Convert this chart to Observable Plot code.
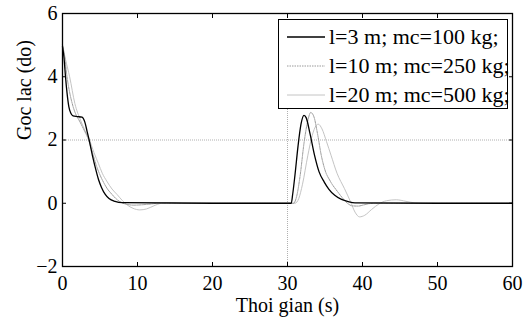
<!DOCTYPE html>
<html>
<head>
<meta charset="utf-8">
<script src="https://cdn.jsdelivr.net/npm/d3@7"></script>
<script src="https://cdn.jsdelivr.net/npm/@observablehq/plot@0.6"></script>
<style>
  html, body { margin: 0; padding: 0; background: #fff; }
  #wrap { position: relative; width: 526px; height: 322px; }
  #legend { position: absolute; left: 278px; top: 19px; width: 230px; height: 90px; border: 1.5px solid #000; background: #fff; box-sizing: border-box; }
  .row { position: absolute; left: 0; height: 28px; display: flex; align-items: center; color: #000; white-space: nowrap; }
  .row svg { margin-left: 8px; margin-right: 4px; }
</style>
</head>
<body>
<div id="wrap"><div id="legend"></div></div>
<script>
// Series labels
const seriesNames = ["l=3 m; mc=100 kg;", "l=10 m; mc=250 kg;", "l=20 m; mc=500 kg;"];

// Series 1: l=3 m
const time1 = [0,0.2,0.4,0.6,0.85,1.1,1.4,2.0,2.6,3.0,3.3,3.6,4.0,4.4,4.8,5.2,5.7,6.2,7.0,8.0,
               20,30.5,30.7,31.0,31.4,31.8,32.2,32.5,33.0,33.6,34.2,34.9,35.5,36.3,37.2,38.1,39,50,60];
const ang1  = [4.95,4.6,4.0,3.5,3.05,2.85,2.76,2.74,2.72,2.55,2.25,1.95,1.5,1.1,0.75,0.5,0.28,0.15,0.06,0.02,
               0,0,0.3,0.9,1.8,2.5,2.78,2.7,2.2,1.52,1.0,0.67,0.45,0.25,0.12,0.05,0.01,0,0];

// Series 2: l=10 m
const time2 = [0,0.3,0.6,1.0,1.3,1.8,2.2,2.8,3.4,4.0,4.5,4.9,5.5,6.0,6.6,7.2,7.8,8.5,9.5,10.5,11.5,13,
               20,30.8,31.2,31.7,32.2,32.7,33.1,33.5,34.0,34.5,35.0,35.7,36.7,37.5,38.0,38.6,39.4,40.2,41,42,50,60];
const ang2  = [5.0,4.6,4.0,3.45,3.15,2.8,2.63,2.35,2.05,1.6,1.2,0.95,0.65,0.45,0.28,0.13,0.03,-0.03,-0.06,-0.05,-0.03,0,
               0,0,0.2,0.9,1.9,2.6,2.87,2.75,2.2,1.52,1.05,0.7,0.36,0.12,0.0,-0.08,-0.09,-0.05,-0.01,0,0,0];

// Series 3: l=20 m
const time3 = [0,0.4,0.95,1.65,2.4,3.0,3.6,4.2,4.8,5.3,5.9,6.6,7.3,8.0,8.6,9.4,10.3,11.2,12.2,13.2,14.5,16,
               25,31.0,31.5,32.0,32.7,33.3,33.8,34.1,34.6,35.2,35.8,36.6,37.6,38.4,39.0,39.6,40.3,41.2,42.2,43.2,44.5,45.8,47,48,60];
const ang3  = [5.0,4.55,4.0,3.15,2.63,2.3,2.0,1.6,1.25,0.95,0.7,0.45,0.27,0.08,-0.05,-0.16,-0.21,-0.18,-0.08,0,0.02,0,
               0,0,0.15,0.6,1.5,2.15,2.45,2.5,2.35,1.95,1.52,0.95,0.46,0.05,-0.28,-0.43,-0.38,-0.2,-0.02,0.08,0.11,0.06,0.01,0,0];

// Axis ticks
const xTicks = [0,10,20,30,40,50,60];
const yTicks = [-2,0,2,4,6];
const gridX = [30];
const gridY = [2];

const styles = [
  {stroke: "#000", width: 1.3, dash: null},
  {stroke: "#9a9a9a", width: 1, dash: "1.5,1"},
  {stroke: "#c4c4c4", width: 1, dash: null}
];

const font = "'Liberation Serif', 'Tinos', 'Times New Roman', 'DejaVu Serif', serif";
const tickFs = 20, titleFs = 20, legendFs = 22;

const series = [[time1, ang1], [time2, ang2], [time3, ang3]];
const rows = series.flatMap(([t, a], i) => t.map((x, j) => ({t: x, a: a[j], s: seriesNames[i]})));

const marks = [
  Plot.ruleY(gridY, {stroke: "#b0b0b0", strokeDasharray: "1,1"}),
  Plot.ruleX(gridX, {stroke: "#b0b0b0", strokeDasharray: "1,1"}),
];
[2, 1, 0].forEach(i => {
  marks.push(Plot.line(rows.filter(d => d.s === seriesNames[i]), {
    x: "t", y: "a", curve: "monotone-x",
    stroke: styles[i].stroke, strokeWidth: styles[i].width,
    strokeDasharray: styles[i].dash
  }));
});
marks.push(
  Plot.axisX(xTicks, {anchor: "bottom", tickSize: -4, tickPadding: 13, fontSize: tickFs, label: null}),
  Plot.axisX(xTicks, {anchor: "top", tickSize: -4, tickFormat: () => "", label: null}),
  Plot.axisY(yTicks, {anchor: "left", tickSize: -4, tickPadding: 9, fontSize: tickFs, label: null}),
  Plot.axisY(yTicks, {anchor: "right", tickSize: -4, tickFormat: () => "", label: null}),
  Plot.frame({stroke: "#000", strokeWidth: 1.3}),
  Plot.text(["Thoi gian (s)"], {frameAnchor: "bottom", dy: 45, fontSize: titleFs, text: d => d}),
  Plot.text(["Goc lac (do)"], {frameAnchor: "left", dx: -38, rotate: -90, fontSize: titleFs, text: d => d})
);

const chart = Plot.plot({
  width: 526, height: 322,
  marginLeft: 62, marginRight: 14, marginTop: 13, marginBottom: 56,
  style: {fontFamily: font, fontSize: tickFs + "px", color: "#000", background: "#fff", overflow: "visible"},
  x: {domain: [0, 60]},
  y: {domain: [-2, 6]},
  marks
});
chart.querySelectorAll("text").forEach(t => t.style.fontFamily = font);
const wrap = document.getElementById("wrap");
wrap.insertBefore(chart, wrap.firstChild);

const legend = document.getElementById("legend");
legend.style.fontFamily = font;
seriesNames.forEach((name, i) => {
  const row = document.createElement("div");
  row.className = "row";
  row.style.top = (3 + i * 29) + "px";
  row.style.fontSize = legendFs + "px";
  row.innerHTML = `<svg width="38" height="4"><line x1="0" x2="38" y1="2" y2="2" stroke="${styles[i].stroke}" stroke-width="${styles[i].width}" ${styles[i].dash ? `stroke-dasharray="${styles[i].dash}"` : ""}/></svg><span>${name}</span>`;
  legend.appendChild(row);
});
</script>
</body>
</html>
